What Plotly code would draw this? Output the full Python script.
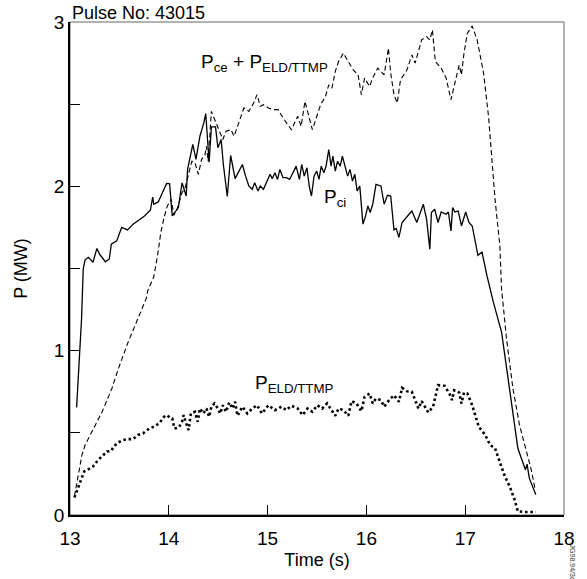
import plotly.graph_objects as go

# P_ci (solid)
t_ci = [13.067, 13.117, 13.134, 13.153, 13.186, 13.233, 13.272, 13.299, 13.358, 13.398, 13.418, 13.473,
        13.523, 13.582, 13.639, 13.754, 13.814, 13.837, 13.847, 13.893, 13.978, 14.008, 14.035, 14.057,
        14.097, 14.134, 14.176, 14.190, 14.243, 14.275, 14.315, 14.354, 14.374, 14.408, 14.431, 14.473,
        14.497, 14.530, 14.552, 14.592, 14.626, 14.671, 14.711, 14.745, 14.777, 14.810, 14.844, 14.869,
        14.903, 14.926, 14.958, 14.992, 15.025, 15.048, 15.074, 15.101, 15.124, 15.156, 15.190, 15.223,
        15.265, 15.289, 15.322, 15.345, 15.371, 15.398, 15.421, 15.444, 15.470, 15.497, 15.520, 15.543,
        15.569, 15.592, 15.619, 15.642, 15.661, 15.685, 15.708, 15.735, 15.757, 15.784, 15.810, 15.834,
        15.859, 15.883, 15.906, 15.933, 15.965, 15.992, 16.015, 16.038, 16.064, 16.097, 16.147, 16.180,
        16.213, 16.246, 16.279, 16.302, 16.329, 16.361, 16.460, 16.510, 16.576, 16.609, 16.642, 16.658,
        16.691, 16.725, 16.757, 16.807, 16.830, 16.856, 16.873, 16.896, 16.929, 16.962, 17.005, 17.038,
        17.071, 17.129, 17.170, 17.220, 17.285, 17.368, 17.450, 17.533, 17.609, 17.626, 17.649, 17.715]
p_ci = [0.655, 1.194, 1.497, 1.553, 1.568, 1.538, 1.622, 1.588, 1.541, 1.558, 1.648, 1.668,
        1.750, 1.735, 1.770, 1.820, 1.856, 1.935, 1.891, 1.905, 2.018, 2.016, 1.820, 1.841,
        1.871, 2.022, 1.941, 2.103, 2.255, 2.164, 2.305, 2.386, 2.442, 2.147, 2.362, 2.362,
        2.235, 2.285, 2.133, 1.938, 2.188, 2.047, 2.093, 2.133, 2.062, 2.002, 1.982, 2.022,
        1.972, 2.002, 1.982, 2.032, 2.073, 2.047, 2.083, 2.042, 2.103, 2.053, 2.053, 2.042,
        2.093, 2.123, 2.042, 2.133, 2.062, 2.113, 2.002, 1.941, 2.062, 2.093, 2.042, 2.123,
        2.083, 2.123, 2.224, 2.123, 2.184, 2.093, 2.153, 2.123, 2.184, 2.123, 2.062, 2.103,
        2.032, 2.073, 1.972, 2.002, 1.770, 1.820, 1.881, 1.841, 1.891, 2.012, 2.002, 1.891,
        1.945, 1.941, 1.735, 1.744, 1.689, 1.780, 1.850, 1.780, 1.891, 1.800, 1.618, 1.841,
        1.861, 1.780, 1.844, 1.830, 1.844, 1.729, 1.871, 1.844, 1.850, 1.759, 1.844, 1.780,
        1.759, 1.580, 1.600, 1.456, 1.295, 1.113, 0.770, 0.406, 0.275, 0.309, 0.224, 0.123]

# P_ce + P_ELD/TTMP (dashed)
t_ce = [13.045, 13.121, 13.153, 13.243, 13.325, 13.424, 13.490, 13.589, 13.688, 13.770, 13.787, 13.847,
        13.886, 13.919, 13.952, 13.985, 14.025, 14.051, 14.084, 14.134, 14.166, 14.200, 14.233, 14.265,
        14.299, 14.332, 14.364, 14.381, 14.398, 14.431, 14.463, 14.497, 14.520, 14.547, 14.579, 14.629,
        14.661, 14.711, 14.760, 14.810, 14.859, 14.893, 14.926, 14.958, 15.008, 15.057, 15.107, 15.156,
        15.240, 15.305, 15.339, 15.378, 15.421, 15.453, 15.487, 15.537, 15.586, 15.619, 15.651, 15.685,
        15.718, 15.767, 15.817, 15.866, 15.916, 15.949, 15.982, 16.032, 16.064, 16.114, 16.180, 16.223,
        16.246, 16.279, 16.312, 16.345, 16.411, 16.460, 16.493, 16.559, 16.609, 16.642, 16.668, 16.698,
        16.757, 16.807, 16.856, 16.906, 16.939, 16.962, 16.988, 17.022, 17.071, 17.121, 17.186, 17.236,
        17.269, 17.302, 17.351, 17.368, 17.418, 17.483, 17.550, 17.616, 17.665, 17.705]
p_ce = [0.115, 0.365, 0.426, 0.527, 0.628, 0.770, 0.891, 1.053, 1.194, 1.315, 1.365, 1.447,
        1.578, 1.719, 1.810, 1.881, 1.921, 1.824, 1.861, 1.962, 1.992, 2.083, 2.153, 2.144,
        2.073, 2.164, 2.184, 2.244, 2.153, 2.456, 2.406, 2.356, 2.315, 2.285, 2.335, 2.345,
        2.305, 2.386, 2.477, 2.456, 2.507, 2.558, 2.487, 2.497, 2.477, 2.467, 2.467, 2.416,
        2.345, 2.426, 2.365, 2.517, 2.416, 2.345, 2.406, 2.497, 2.547, 2.618, 2.598, 2.699,
        2.759, 2.810, 2.759, 2.709, 2.679, 2.558, 2.659, 2.608, 2.659, 2.719, 2.679, 2.841,
        2.689, 2.558, 2.507, 2.648, 2.709, 2.800, 2.750, 2.891, 2.911, 2.891, 2.952, 2.759,
        2.719, 2.659, 2.527, 2.659, 2.739, 2.679, 2.810, 2.932, 2.976, 2.891, 2.689, 2.426,
        2.164, 1.921, 1.638, 1.376, 1.073, 0.770, 0.547, 0.386, 0.285, 0.164]

# P_ELD/TTMP (dotted)
t_eld = [13.045, 13.077, 13.111, 13.144, 13.193, 13.233, 13.285, 13.325, 13.374, 13.418, 13.441, 13.490,
         13.540, 13.589, 13.639, 13.688, 13.739, 13.770, 13.804, 13.853, 13.903, 13.952, 13.978, 14.012,
         14.035, 14.057, 14.101, 14.134, 14.150, 14.176, 14.200, 14.223, 14.265, 14.292, 14.315, 14.349,
         14.381, 14.408, 14.431, 14.463, 14.497, 14.520, 14.547, 14.579, 14.612, 14.646, 14.671, 14.695,
         14.745, 14.794, 14.844, 14.893, 14.943, 15.008, 15.074, 15.141, 15.190, 15.240, 15.305, 15.354,
         15.404, 15.453, 15.503, 15.552, 15.602, 15.685, 15.718, 15.767, 15.817, 15.850, 15.899, 15.949,
         15.982, 16.032, 16.064, 16.097, 16.147, 16.180, 16.230, 16.279, 16.329, 16.361, 16.411, 16.460,
         16.493, 16.527, 16.559, 16.592, 16.626, 16.675, 16.725, 16.790, 16.840, 16.866, 16.889, 16.939,
         16.962, 16.988, 17.022, 17.071, 17.137, 17.203, 17.252, 17.302, 17.351, 17.401, 17.450, 17.500,
         17.533, 17.599, 17.715]
p_eld = [0.107, 0.159, 0.214, 0.265, 0.281, 0.295, 0.335, 0.356, 0.386, 0.390, 0.416, 0.442,
         0.456, 0.462, 0.462, 0.487, 0.497, 0.511, 0.527, 0.538, 0.558, 0.598, 0.608, 0.592,
         0.588, 0.527, 0.532, 0.568, 0.608, 0.558, 0.517, 0.618, 0.628, 0.568, 0.648, 0.618,
         0.648, 0.598, 0.659, 0.679, 0.648, 0.618, 0.668, 0.628, 0.685, 0.648, 0.689, 0.604,
         0.659, 0.618, 0.648, 0.668, 0.618, 0.668, 0.638, 0.659, 0.638, 0.665, 0.648, 0.608,
         0.648, 0.628, 0.668, 0.648, 0.679, 0.604, 0.648, 0.638, 0.604, 0.693, 0.679, 0.632,
         0.719, 0.739, 0.679, 0.709, 0.699, 0.659, 0.699, 0.729, 0.689, 0.774, 0.753, 0.750,
         0.699, 0.648, 0.693, 0.659, 0.624, 0.659, 0.790, 0.786, 0.739, 0.699, 0.759, 0.745,
         0.679, 0.745, 0.739, 0.668, 0.538, 0.487, 0.426, 0.406, 0.325, 0.235, 0.174, 0.093,
         0.022, 0.018, 0.018]

x_ticks = [13, 14, 15, 16, 17, 18]
y_ticks = [0, 0.5, 1, 1.5, 2, 2.5, 3]
y_ticktext = ["0", "", "1", "", "2", "", "3"]

FONT = "Liberation Sans, Arial, sans-serif"

fig = go.Figure()
fig.add_trace(go.Scatter(x=t_ce, y=p_ce, mode="lines",
                         line=dict(color="black", width=1.1, dash="5px,3px")))
fig.add_trace(go.Scatter(x=t_ci, y=p_ci, mode="lines",
                         line=dict(color="black", width=1.3)))
fig.add_trace(go.Scatter(x=t_eld, y=p_eld, mode="lines",
                         line=dict(color="black", width=2.6, dash="2.5px,2.8px")))

annots = [
    dict(x=14.97, y=2.75, text="P<sub>ce</sub> + P<sub>ELD/TTMP</sub>", showarrow=False,
         font=dict(size=19, family=FONT, color="black")),
    dict(x=15.68, y=1.93, text="P<sub>ci</sub>", showarrow=False,
         font=dict(size=19, family=FONT, color="black")),
    dict(x=15.27, y=0.80, text="P<sub>ELD/TTMP</sub>", showarrow=False,
         font=dict(size=19, family=FONT, color="black")),
    dict(xref="paper", yref="paper", x=0, y=1, xanchor="left", yanchor="bottom",
         text="Pulse No: 43015", showarrow=False, yshift=-3,
         font=dict(size=18, family=FONT, color="black")),
    dict(xref="paper", yref="paper", x=1.0168, y=-0.0566, xanchor="center", yanchor="top",
         text="JG98.94/3c", showarrow=False, textangle=90,
         font=dict(size=7, family=FONT, color="#333")),
]

fig.update_layout(
    width=587, height=579,
    margin=dict(l=70, r=12, t=22, b=62),
    paper_bgcolor="white", plot_bgcolor="white",
    showlegend=False,
    annotations=annots,
    shapes=[dict(type="rect", xref="paper", yref="paper", x0=0, x1=1, y0=0, y1=1,
                 line=dict(color="#666", width=1), layer="below")],
    font=dict(family=FONT, color="black"),
)
fig.update_xaxes(range=[13, 18], tickvals=x_ticks, ticks="inside", ticklen=10,
                 tickcolor="black", tickwidth=1, showgrid=False, zeroline=False,
                 showline=True, linecolor="black", linewidth=1.5, ticklabelstandoff=5,
                 tickfont=dict(size=19, family=FONT, color="black"),
                 title=dict(text="Time (s)", font=dict(size=18, family=FONT, color="black"), standoff=6))
fig.update_yaxes(range=[0, 3], tickvals=y_ticks, ticktext=y_ticktext, ticks="inside", ticklen=10,
                 tickcolor="black", tickwidth=1, showgrid=False, zeroline=False,
                 showline=True, linecolor="black", linewidth=1.5,
                 tickfont=dict(size=19, family=FONT, color="black"),
                 title=dict(text="P (MW)", font=dict(size=18, family=FONT, color="black"), standoff=22))

fig.write_html("out.html")
